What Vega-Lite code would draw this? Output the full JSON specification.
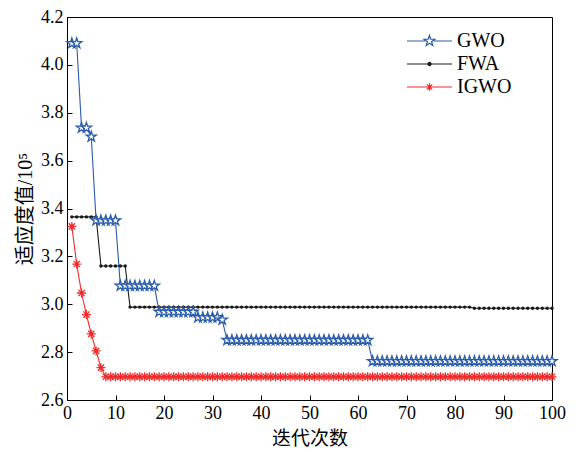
{
  "$schema": "https://vega.github.io/schema/vega-lite/v6.json",
  "width": 485,
  "height": 383,
  "autosize": "none",
  "padding": {"left": 67, "top": 17, "right": 26, "bottom": 54},
  "background": "#ffffff",
  "data": {"values": [
    {"s":"GWO","i":1,"v":4.09},{"s":"GWO","i":2,"v":4.09},{"s":"GWO","i":3,"v":3.737},{"s":"GWO","i":4,"v":3.737},{"s":"GWO","i":5,"v":3.70},
    {"s":"GWO","i":6,"v":3.35},{"s":"GWO","i":7,"v":3.35},{"s":"GWO","i":8,"v":3.35},{"s":"GWO","i":9,"v":3.35},{"s":"GWO","i":10,"v":3.35},
    {"s":"GWO","i":11,"v":3.077},{"s":"GWO","i":12,"v":3.077},{"s":"GWO","i":13,"v":3.077},{"s":"GWO","i":14,"v":3.077},{"s":"GWO","i":15,"v":3.077},
    {"s":"GWO","i":16,"v":3.077},{"s":"GWO","i":17,"v":3.077},{"s":"GWO","i":18,"v":3.077},
    {"s":"GWO","i":19,"v":2.968},{"s":"GWO","i":20,"v":2.968},{"s":"GWO","i":21,"v":2.968},{"s":"GWO","i":22,"v":2.968},{"s":"GWO","i":23,"v":2.968},
    {"s":"GWO","i":24,"v":2.968},{"s":"GWO","i":25,"v":2.968},{"s":"GWO","i":26,"v":2.968},
    {"s":"GWO","i":27,"v":2.945},{"s":"GWO","i":28,"v":2.945},{"s":"GWO","i":29,"v":2.945},{"s":"GWO","i":30,"v":2.945},{"s":"GWO","i":31,"v":2.945},
    {"s":"GWO","i":32,"v":2.935},
    {"s":"GWO","i":33,"v":2.85},{"s":"GWO","i":34,"v":2.85},{"s":"GWO","i":35,"v":2.85},{"s":"GWO","i":36,"v":2.85},{"s":"GWO","i":37,"v":2.85},
    {"s":"GWO","i":38,"v":2.85},{"s":"GWO","i":39,"v":2.85},{"s":"GWO","i":40,"v":2.85},{"s":"GWO","i":41,"v":2.85},{"s":"GWO","i":42,"v":2.85},
    {"s":"GWO","i":43,"v":2.85},{"s":"GWO","i":44,"v":2.85},{"s":"GWO","i":45,"v":2.85},{"s":"GWO","i":46,"v":2.85},{"s":"GWO","i":47,"v":2.85},
    {"s":"GWO","i":48,"v":2.85},{"s":"GWO","i":49,"v":2.85},{"s":"GWO","i":50,"v":2.85},{"s":"GWO","i":51,"v":2.85},{"s":"GWO","i":52,"v":2.85},
    {"s":"GWO","i":53,"v":2.85},{"s":"GWO","i":54,"v":2.85},{"s":"GWO","i":55,"v":2.85},{"s":"GWO","i":56,"v":2.85},{"s":"GWO","i":57,"v":2.85},
    {"s":"GWO","i":58,"v":2.85},{"s":"GWO","i":59,"v":2.85},{"s":"GWO","i":60,"v":2.85},{"s":"GWO","i":61,"v":2.85},{"s":"GWO","i":62,"v":2.85},
    {"s":"GWO","i":63,"v":2.762},{"s":"GWO","i":64,"v":2.762},{"s":"GWO","i":65,"v":2.762},{"s":"GWO","i":66,"v":2.762},{"s":"GWO","i":67,"v":2.762},
    {"s":"GWO","i":68,"v":2.762},{"s":"GWO","i":69,"v":2.762},{"s":"GWO","i":70,"v":2.762},{"s":"GWO","i":71,"v":2.762},{"s":"GWO","i":72,"v":2.762},
    {"s":"GWO","i":73,"v":2.762},{"s":"GWO","i":74,"v":2.762},{"s":"GWO","i":75,"v":2.762},{"s":"GWO","i":76,"v":2.762},{"s":"GWO","i":77,"v":2.762},
    {"s":"GWO","i":78,"v":2.762},{"s":"GWO","i":79,"v":2.762},{"s":"GWO","i":80,"v":2.762},{"s":"GWO","i":81,"v":2.762},{"s":"GWO","i":82,"v":2.762},
    {"s":"GWO","i":83,"v":2.762},{"s":"GWO","i":84,"v":2.762},{"s":"GWO","i":85,"v":2.762},{"s":"GWO","i":86,"v":2.762},{"s":"GWO","i":87,"v":2.762},
    {"s":"GWO","i":88,"v":2.762},{"s":"GWO","i":89,"v":2.762},{"s":"GWO","i":90,"v":2.762},{"s":"GWO","i":91,"v":2.762},{"s":"GWO","i":92,"v":2.762},
    {"s":"GWO","i":93,"v":2.762},{"s":"GWO","i":94,"v":2.762},{"s":"GWO","i":95,"v":2.762},{"s":"GWO","i":96,"v":2.762},{"s":"GWO","i":97,"v":2.762},
    {"s":"GWO","i":98,"v":2.762},{"s":"GWO","i":99,"v":2.762},{"s":"GWO","i":100,"v":2.762},

    {"s":"FWA","i":1,"v":3.365},{"s":"FWA","i":2,"v":3.365},{"s":"FWA","i":3,"v":3.365},{"s":"FWA","i":4,"v":3.365},{"s":"FWA","i":5,"v":3.365},{"s":"FWA","i":6,"v":3.365},
    {"s":"FWA","i":7,"v":3.16},{"s":"FWA","i":8,"v":3.16},{"s":"FWA","i":9,"v":3.16},{"s":"FWA","i":10,"v":3.16},{"s":"FWA","i":11,"v":3.16},{"s":"FWA","i":12,"v":3.16},
    {"s":"FWA","i":13,"v":2.988},{"s":"FWA","i":14,"v":2.988},{"s":"FWA","i":15,"v":2.988},{"s":"FWA","i":16,"v":2.988},{"s":"FWA","i":17,"v":2.988},
    {"s":"FWA","i":18,"v":2.988},{"s":"FWA","i":19,"v":2.988},{"s":"FWA","i":20,"v":2.988},{"s":"FWA","i":21,"v":2.988},{"s":"FWA","i":22,"v":2.988},
    {"s":"FWA","i":23,"v":2.988},{"s":"FWA","i":24,"v":2.988},{"s":"FWA","i":25,"v":2.988},{"s":"FWA","i":26,"v":2.988},{"s":"FWA","i":27,"v":2.988},
    {"s":"FWA","i":28,"v":2.988},{"s":"FWA","i":29,"v":2.988},{"s":"FWA","i":30,"v":2.988},{"s":"FWA","i":31,"v":2.988},{"s":"FWA","i":32,"v":2.988},
    {"s":"FWA","i":33,"v":2.988},{"s":"FWA","i":34,"v":2.988},{"s":"FWA","i":35,"v":2.988},{"s":"FWA","i":36,"v":2.988},{"s":"FWA","i":37,"v":2.988},
    {"s":"FWA","i":38,"v":2.988},{"s":"FWA","i":39,"v":2.988},{"s":"FWA","i":40,"v":2.988},{"s":"FWA","i":41,"v":2.988},{"s":"FWA","i":42,"v":2.988},
    {"s":"FWA","i":43,"v":2.988},{"s":"FWA","i":44,"v":2.988},{"s":"FWA","i":45,"v":2.988},{"s":"FWA","i":46,"v":2.988},{"s":"FWA","i":47,"v":2.988},
    {"s":"FWA","i":48,"v":2.988},{"s":"FWA","i":49,"v":2.988},{"s":"FWA","i":50,"v":2.988},{"s":"FWA","i":51,"v":2.988},{"s":"FWA","i":52,"v":2.988},
    {"s":"FWA","i":53,"v":2.988},{"s":"FWA","i":54,"v":2.988},{"s":"FWA","i":55,"v":2.988},{"s":"FWA","i":56,"v":2.988},{"s":"FWA","i":57,"v":2.988},
    {"s":"FWA","i":58,"v":2.988},{"s":"FWA","i":59,"v":2.988},{"s":"FWA","i":60,"v":2.988},{"s":"FWA","i":61,"v":2.988},{"s":"FWA","i":62,"v":2.988},
    {"s":"FWA","i":63,"v":2.988},{"s":"FWA","i":64,"v":2.988},{"s":"FWA","i":65,"v":2.988},{"s":"FWA","i":66,"v":2.988},{"s":"FWA","i":67,"v":2.988},
    {"s":"FWA","i":68,"v":2.988},{"s":"FWA","i":69,"v":2.988},{"s":"FWA","i":70,"v":2.988},{"s":"FWA","i":71,"v":2.988},{"s":"FWA","i":72,"v":2.988},
    {"s":"FWA","i":73,"v":2.988},{"s":"FWA","i":74,"v":2.988},{"s":"FWA","i":75,"v":2.988},{"s":"FWA","i":76,"v":2.988},{"s":"FWA","i":77,"v":2.988},
    {"s":"FWA","i":78,"v":2.988},{"s":"FWA","i":79,"v":2.988},{"s":"FWA","i":80,"v":2.988},{"s":"FWA","i":81,"v":2.988},{"s":"FWA","i":82,"v":2.988},
    {"s":"FWA","i":83,"v":2.988},
    {"s":"FWA","i":84,"v":2.983},{"s":"FWA","i":85,"v":2.983},{"s":"FWA","i":86,"v":2.983},{"s":"FWA","i":87,"v":2.983},{"s":"FWA","i":88,"v":2.983},
    {"s":"FWA","i":89,"v":2.983},{"s":"FWA","i":90,"v":2.983},{"s":"FWA","i":91,"v":2.983},{"s":"FWA","i":92,"v":2.983},{"s":"FWA","i":93,"v":2.983},
    {"s":"FWA","i":94,"v":2.983},{"s":"FWA","i":95,"v":2.983},{"s":"FWA","i":96,"v":2.983},{"s":"FWA","i":97,"v":2.983},{"s":"FWA","i":98,"v":2.983},
    {"s":"FWA","i":99,"v":2.983},{"s":"FWA","i":100,"v":2.983},

    {"s":"IGWO","i":1,"v":3.325},{"s":"IGWO","i":2,"v":3.168},{"s":"IGWO","i":3,"v":3.047},{"s":"IGWO","i":4,"v":2.957},{"s":"IGWO","i":5,"v":2.876},
    {"s":"IGWO","i":6,"v":2.805},{"s":"IGWO","i":7,"v":2.735},
    {"s":"IGWO","i":8,"v":2.697},{"s":"IGWO","i":9,"v":2.697},{"s":"IGWO","i":10,"v":2.697},{"s":"IGWO","i":11,"v":2.697},{"s":"IGWO","i":12,"v":2.697},
    {"s":"IGWO","i":13,"v":2.697},{"s":"IGWO","i":14,"v":2.697},{"s":"IGWO","i":15,"v":2.697},{"s":"IGWO","i":16,"v":2.697},{"s":"IGWO","i":17,"v":2.697},
    {"s":"IGWO","i":18,"v":2.697},{"s":"IGWO","i":19,"v":2.697},{"s":"IGWO","i":20,"v":2.697},{"s":"IGWO","i":21,"v":2.697},{"s":"IGWO","i":22,"v":2.697},
    {"s":"IGWO","i":23,"v":2.697},{"s":"IGWO","i":24,"v":2.697},{"s":"IGWO","i":25,"v":2.697},{"s":"IGWO","i":26,"v":2.697},{"s":"IGWO","i":27,"v":2.697},
    {"s":"IGWO","i":28,"v":2.697},{"s":"IGWO","i":29,"v":2.697},{"s":"IGWO","i":30,"v":2.697},{"s":"IGWO","i":31,"v":2.697},{"s":"IGWO","i":32,"v":2.697},
    {"s":"IGWO","i":33,"v":2.697},{"s":"IGWO","i":34,"v":2.697},{"s":"IGWO","i":35,"v":2.697},{"s":"IGWO","i":36,"v":2.697},{"s":"IGWO","i":37,"v":2.697},
    {"s":"IGWO","i":38,"v":2.697},{"s":"IGWO","i":39,"v":2.697},{"s":"IGWO","i":40,"v":2.697},{"s":"IGWO","i":41,"v":2.697},{"s":"IGWO","i":42,"v":2.697},
    {"s":"IGWO","i":43,"v":2.697},{"s":"IGWO","i":44,"v":2.697},{"s":"IGWO","i":45,"v":2.697},{"s":"IGWO","i":46,"v":2.697},{"s":"IGWO","i":47,"v":2.697},
    {"s":"IGWO","i":48,"v":2.697},{"s":"IGWO","i":49,"v":2.697},{"s":"IGWO","i":50,"v":2.697},{"s":"IGWO","i":51,"v":2.697},{"s":"IGWO","i":52,"v":2.697},
    {"s":"IGWO","i":53,"v":2.697},{"s":"IGWO","i":54,"v":2.697},{"s":"IGWO","i":55,"v":2.697},{"s":"IGWO","i":56,"v":2.697},{"s":"IGWO","i":57,"v":2.697},
    {"s":"IGWO","i":58,"v":2.697},{"s":"IGWO","i":59,"v":2.697},{"s":"IGWO","i":60,"v":2.697},{"s":"IGWO","i":61,"v":2.697},{"s":"IGWO","i":62,"v":2.697},
    {"s":"IGWO","i":63,"v":2.697},{"s":"IGWO","i":64,"v":2.697},{"s":"IGWO","i":65,"v":2.697},{"s":"IGWO","i":66,"v":2.697},{"s":"IGWO","i":67,"v":2.697},
    {"s":"IGWO","i":68,"v":2.697},{"s":"IGWO","i":69,"v":2.697},{"s":"IGWO","i":70,"v":2.697},{"s":"IGWO","i":71,"v":2.697},{"s":"IGWO","i":72,"v":2.697},
    {"s":"IGWO","i":73,"v":2.697},{"s":"IGWO","i":74,"v":2.697},{"s":"IGWO","i":75,"v":2.697},{"s":"IGWO","i":76,"v":2.697},{"s":"IGWO","i":77,"v":2.697},
    {"s":"IGWO","i":78,"v":2.697},{"s":"IGWO","i":79,"v":2.697},{"s":"IGWO","i":80,"v":2.697},{"s":"IGWO","i":81,"v":2.697},{"s":"IGWO","i":82,"v":2.697},
    {"s":"IGWO","i":83,"v":2.697},{"s":"IGWO","i":84,"v":2.697},{"s":"IGWO","i":85,"v":2.697},{"s":"IGWO","i":86,"v":2.697},{"s":"IGWO","i":87,"v":2.697},
    {"s":"IGWO","i":88,"v":2.697},{"s":"IGWO","i":89,"v":2.697},{"s":"IGWO","i":90,"v":2.697},{"s":"IGWO","i":91,"v":2.697},{"s":"IGWO","i":92,"v":2.697},
    {"s":"IGWO","i":93,"v":2.697},{"s":"IGWO","i":94,"v":2.697},{"s":"IGWO","i":95,"v":2.697},{"s":"IGWO","i":96,"v":2.697},{"s":"IGWO","i":97,"v":2.697},
    {"s":"IGWO","i":98,"v":2.697},{"s":"IGWO","i":99,"v":2.697},{"s":"IGWO","i":100,"v":2.697}
  ]},
  "encoding": {
    "x": {"field": "i", "type": "quantitative", "scale": {"domain": [0, 100], "nice": false},
      "axis": {"title": "迭代次数", "values": [0,10,20,30,40,50,60,70,80,90,100], "labelDx": 2, "titlePadding": 7, "titleFontSize": 19}},
    "y": {"field": "v", "type": "quantitative", "scale": {"domain": [2.6, 4.2], "nice": false, "zero": false},
      "axis": {"title": "适应度值/10⁵", "values": [2.6,2.8,3.0,3.2,3.4,3.6,3.8,4.0,4.2], "format": ".1f", "titlePadding": 5, "titleFontSize": 20}}
  },
  "layer": [
    {
      "mark": {"type": "line", "strokeWidth": 1.1},
      "encoding": {
        "color": {"field": "s", "type": "nominal",
          "scale": {"domain": ["GWO", "FWA", "IGWO"], "range": ["#2a5caa", "#1a1a1a", "#f02828"]},
          "legend": {
            "title": null, "orient": "none", "legendX": 339, "legendY": 15, "padding": 0,
            "symbolSize": 2025, "symbolStrokeWidth": 1.1, "clipHeight": 18, "rowPadding": 3, "labelOffset": 4,
            "labelFont": "Liberation Serif", "labelFontSize": 20, "labelColor": "#000",
            "encode": {"symbols": {"update": {
              "shape": {"signal": "datum.value === 'GWO' ? 'M-1,0L-0.2,0M0.2,0L1,0M0,-0.25L0.056,-0.077L0.238,-0.077L0.091,0.03L0.147,0.202L0,0.096L-0.147,0.202L-0.091,0.03L-0.238,-0.077L-0.056,-0.077Z' : datum.value === 'FWA' ? 'M-1,0L1,0M0.07,0A0.07,0.07,0,1,1,-0.07,0A0.07,0.07,0,1,1,0.07,0Z' : 'M-1,0L1,0M0,-0.17L0,0.17M-0.12,-0.12L0.12,0.12M-0.12,0.12L0.12,-0.12'"},
              "fill": {"signal": "datum.value === 'FWA' ? '#1a1a1a' : '#ffffff'"},
              "fillOpacity": {"value": 1},
              "stroke": {"signal": "scale('color', datum.value)"},
              "strokeWidth": {"value": 1.2}
            }}}
          }
        }
      }
    },
    {
      "transform": [{"filter": "datum.s === 'FWA'"}],
      "mark": {"type": "circle", "size": 12, "color": "#1a1a1a", "opacity": 1}
    },
    {
      "transform": [{"filter": "datum.s === 'GWO'"}],
      "mark": {"type": "point", "shape": "M0,-1L0.225,-0.309L0.951,-0.309L0.363,0.118L0.588,0.809L0,0.382L-0.588,0.809L-0.363,0.118L-0.951,-0.309L-0.225,-0.309Z",
        "size": 115, "filled": true, "fill": "#ffffff", "stroke": "#2a5caa", "strokeWidth": 1.3, "opacity": 1}
    },
    {
      "transform": [{"filter": "datum.s === 'IGWO'"}],
      "mark": {"type": "point", "shape": "M0,-1L0,1M-1,0L1,0M-0.7,-0.7L0.7,0.7M-0.7,0.7L0.7,-0.7",
        "size": 80, "filled": false, "stroke": "#f02828", "strokeWidth": 1.3, "opacity": 1}
    }
  ],
  "config": {
    "view": {"stroke": "#000000", "strokeWidth": 1},
    "axis": {
      "grid": false, "domainColor": "#000000", "domainWidth": 1, "tickColor": "#000000", "tickSize": -5, "tickWidth": 1,
      "labelPadding": 9, "labelFont": "Liberation Serif", "labelFontSize": 18, "labelColor": "#000000", "labelFlush": false,
      "titleFont": "Liberation Serif, Noto Sans CJK SC", "titleFontWeight": "normal", "titleColor": "#000000"
    }
  }
}
